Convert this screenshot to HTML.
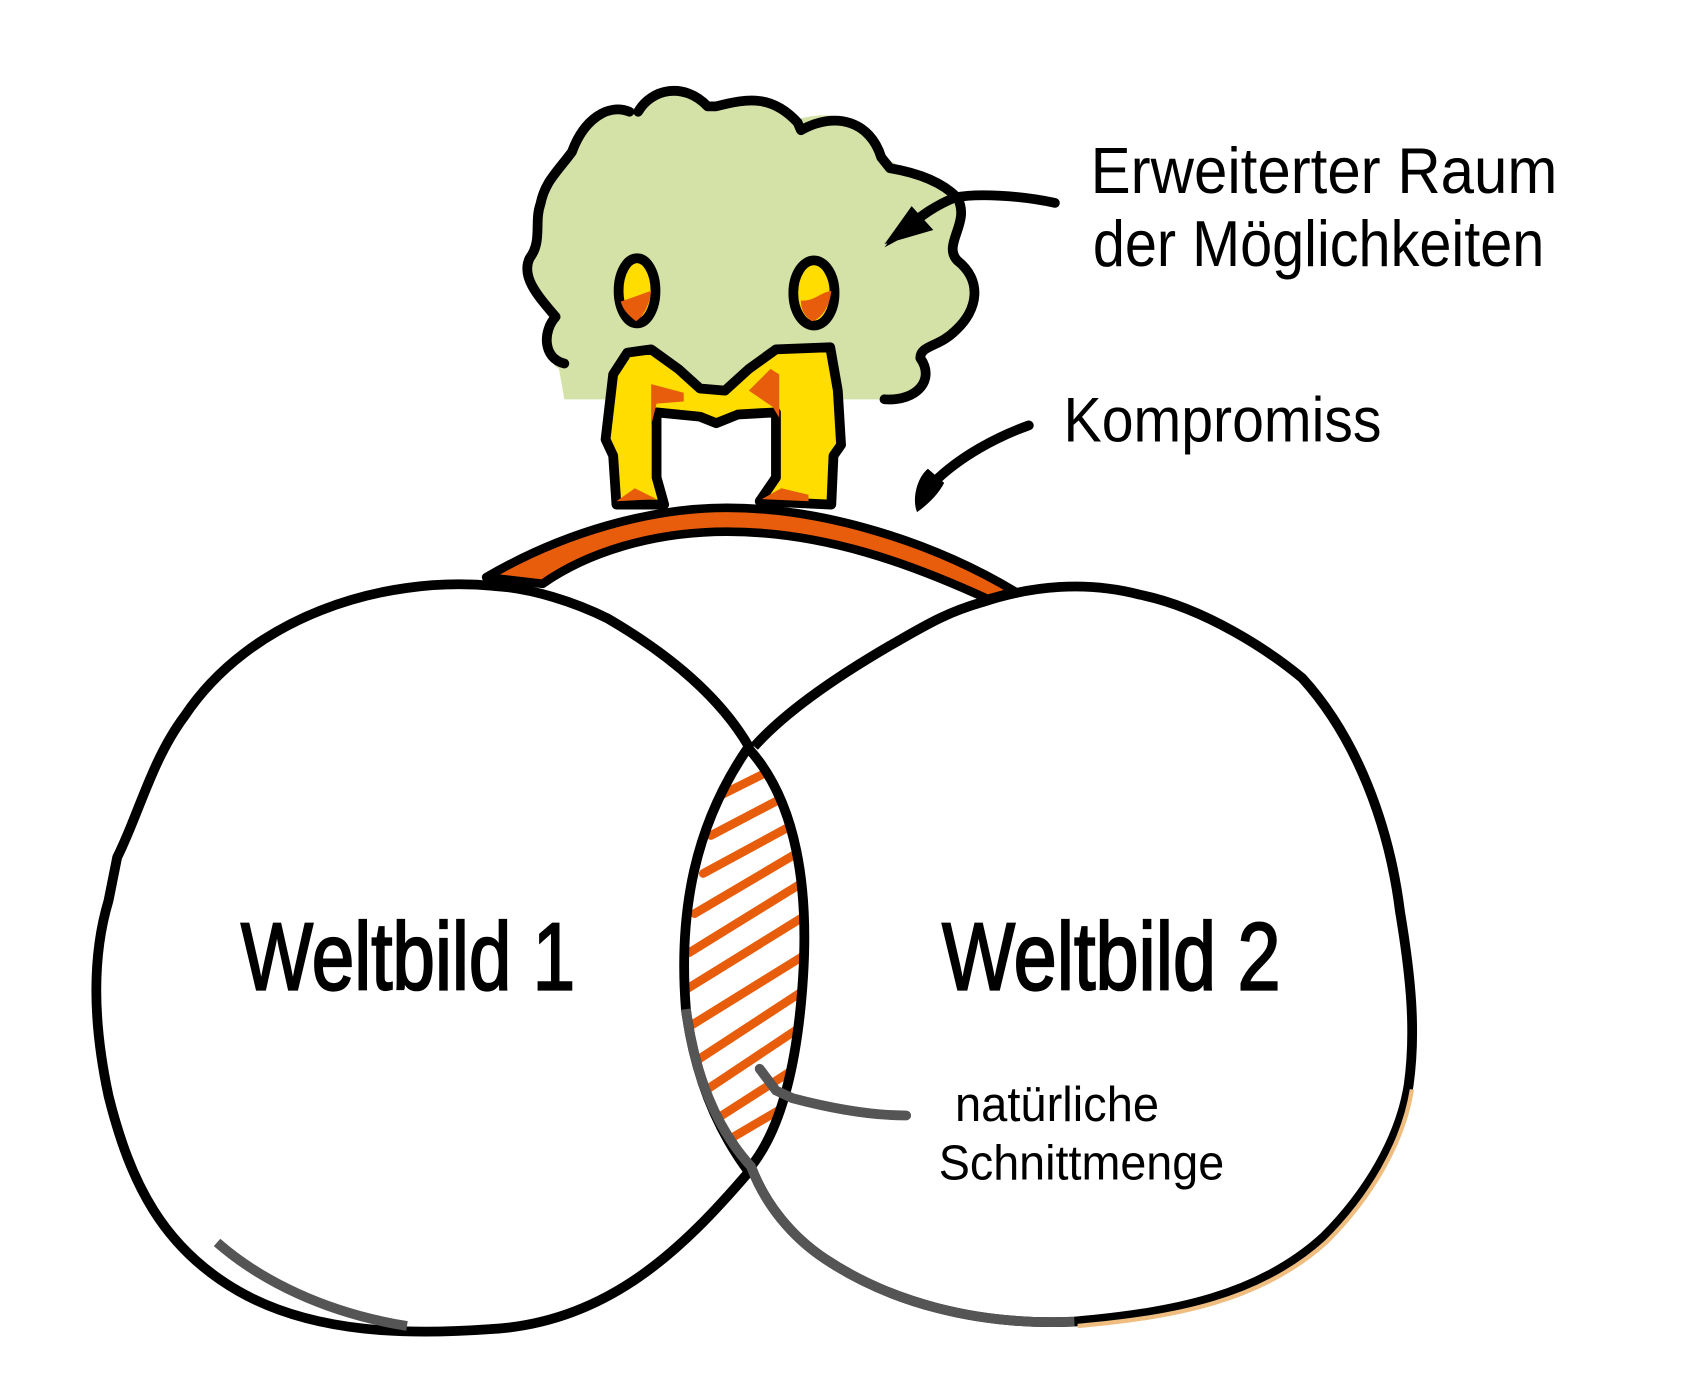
<!DOCTYPE html>
<html><head><meta charset="utf-8"><style>
html,body{margin:0;padding:0;background:#fff}
svg{display:block}
text{font-family:"Liberation Sans",sans-serif;fill:#000}
</style></head><body>
<svg width="1693" height="1390" viewBox="0 0 1560 1281" preserveAspectRatio="none" xmlns="http://www.w3.org/2000/svg">
<path d="M515,340 C500,330 500,300 512,290 C495,270 480,255 488,235 C500,220 490,200 498,185 C500,165 510,160 525,140 C535,110 560,95 585,100 C600,80 630,75 655,98 C690,90 710,88 735,110 C770,100 800,110 812,140 C820,155 850,155 880,180 C895,200 870,220 880,235 C905,250 905,280 880,305 C865,320 850,320 850,330 C860,350 840,370 815,368 L520,368 Z" fill="#d4e2a8" stroke="none"/>
<path d="M520,335 C500,330 500,305 512,292 C495,272 480,255 488,238 C500,222 492,205 498,188 C502,168 512,160 527,140 C538,110 560,95 580,103 M588,103 C600,82 630,75 652,98 L660,98 C690,90 712,88 735,113 L738,120 C770,102 802,112 812,145 L820,155 C850,160 870,170 882,182 C895,205 868,225 882,240 C905,258 902,285 880,305 C865,320 848,318 848,330 C862,350 845,370 815,368" fill="none" stroke="#000" stroke-width="9" stroke-linecap="round" stroke-linejoin="round"/>
<path d="M972,187 C940,180 900,178 880,182 C860,190 848,200 835,210" fill="none" stroke="#000" stroke-width="9" stroke-linecap="round"/>
<path d="M815,225 L840,190 L860,212 Z M815,228 L835,200 L848,210 Z" fill="#000"/>
<path d="M948,392 C920,402 885,420 860,445" fill="none" stroke="#000" stroke-width="9" stroke-linecap="round"/>
<path d="M845,472 C840,460 845,440 855,432 L870,445 C865,455 855,465 845,472 Z" fill="#000"/>
<ellipse cx="587" cy="268" rx="17" ry="30" fill="#ffdd00" stroke="#000" stroke-width="9"/>
<path d="M572,278 L600,268 C598,285 590,294 586,296 C578,290 574,285 572,278Z" fill="#e85d0c"/>
<ellipse cx="750" cy="270" rx="19" ry="30" fill="#ffdd00" stroke="#000" stroke-width="9"/>
<path d="M738,277 C750,278 755,270 766,268 C764,288 752,296 748,296 C740,290 738,284 738,277Z" fill="#e85d0c"/>
<path fill-rule="evenodd" d="M568,465 L565,420 L558,405 L565,345 L578,325 L600,322 L625,340 L645,358 L668,360 L690,340 L715,322 L765,320 L772,360 L775,410 L768,420 L766,465 L700,462 L715,440 L715,380 L680,382 L660,390 L645,384 L605,380 L605,440 L612,465 Z" fill="#ffdd00" stroke="#000" stroke-width="9" stroke-linejoin="round"/>
<path d="M600,354 L630,362 L630,370 L605,372 L600,392 Z M690,360 L710,340 L718,345 L718,385 L712,375 Z M568,462 L585,450 L605,460 Z M702,460 L720,450 L745,456 L745,462 Z" fill="#e85d0c"/>
<path d="M448,532 C520,490 600,468 670,468 C760,468 860,500 935,545 L910,552 C840,520 760,490 670,490 C600,490 540,510 500,538 Z" fill="#e85d0c" stroke="#000" stroke-width="8" stroke-linejoin="round"/>
<clipPath id="lens"><path d="M690,690 C640,760 625,840 632,930 C640,990 660,1040 692,1075 C720,1040 735,980 738,900 C745,820 735,740 690,690 Z"/></clipPath>
<g clip-path="url(#lens)" stroke="#e85d0c" stroke-width="8" stroke-linecap="round">
<line x1="660" y1="735" x2="720" y2="705"/><line x1="655" y1="770" x2="735" y2="728"/><line x1="648" y1="805" x2="740" y2="755"/><line x1="640" y1="842" x2="745" y2="780"/><line x1="635" y1="878" x2="745" y2="810"/><line x1="632" y1="912" x2="745" y2="842"/><line x1="632" y1="948" x2="745" y2="878"/><line x1="638" y1="980" x2="745" y2="910"/><line x1="650" y1="1005" x2="740" y2="945"/><line x1="662" y1="1030" x2="740" y2="980"/><line x1="672" y1="1050" x2="740" y2="1010"/></g>
<path d="M455,540 C350,530 230,570 170,660 C140,700 128,750 108,790 L100,830 C85,880 85,940 100,1010 C120,1090 150,1150 220,1190 C290,1230 380,1230 450,1225 C560,1220 630,1150 690,1080 C660,1040 640,990 632,930 C625,840 640,760 690,688 C665,645 620,605 560,570 C530,555 490,542 455,540 Z" fill="none" stroke="#000" stroke-width="9" stroke-linejoin="round"/>
<path d="M695,688 C720,660 760,630 820,595 C850,578 870,565 905,555 C950,540 1000,535 1050,548 C1110,560 1170,600 1200,625 C1250,680 1280,760 1290,840 C1300,900 1305,950 1298,1000 C1290,1050 1260,1100 1220,1140 C1160,1195 1080,1210 990,1218 C900,1222 820,1200 760,1160 C730,1140 705,1110 692,1075" fill="none" stroke="#000" stroke-width="9" stroke-linejoin="round"/>
<path d="M692,1075 C720,1040 735,980 740,900 C745,820 735,740 690,690" fill="none" stroke="#000" stroke-width="9"/>
<path d="M632,930 C640,990 660,1040 692,1075 C705,1110 730,1140 760,1160 C820,1200 900,1222 990,1218" fill="none" stroke="#555" stroke-width="9"/>
<path d="M1298,1000 C1290,1050 1260,1100 1220,1140 C1160,1195 1080,1210 990,1218" fill="none" stroke="#eebd7f" stroke-width="4" transform="translate(3,4)"/>
<path d="M200,1145 C240,1180 300,1210 375,1222" fill="none" stroke="#555" stroke-width="9"/>
<path d="M835,1028 C800,1028 760,1020 730,1012 L715,1005 L700,985" fill="none" stroke="#555" stroke-width="9" stroke-linecap="round"/>
<text x="1005" y="178" font-size="60" textLength="430" lengthAdjust="spacingAndGlyphs">Erweiterter Raum</text>
<text x="1007" y="245" font-size="60" textLength="416" lengthAdjust="spacingAndGlyphs">der Möglichkeiten</text>
<text x="980" y="407" font-size="58" textLength="293" lengthAdjust="spacingAndGlyphs">Kompromiss</text>
<text x="222" y="912" font-size="88" textLength="308" lengthAdjust="spacingAndGlyphs" stroke="#000" stroke-width="2">Weltbild 1</text>
<text x="868" y="912" font-size="88" textLength="312" lengthAdjust="spacingAndGlyphs" stroke="#000" stroke-width="2">Weltbild 2</text>
<text x="880" y="1033" font-size="45" textLength="188" lengthAdjust="spacingAndGlyphs">natürliche</text>
<text x="865" y="1087" font-size="45" textLength="263" lengthAdjust="spacingAndGlyphs">Schnittmenge</text>
</svg>
</body></html>
